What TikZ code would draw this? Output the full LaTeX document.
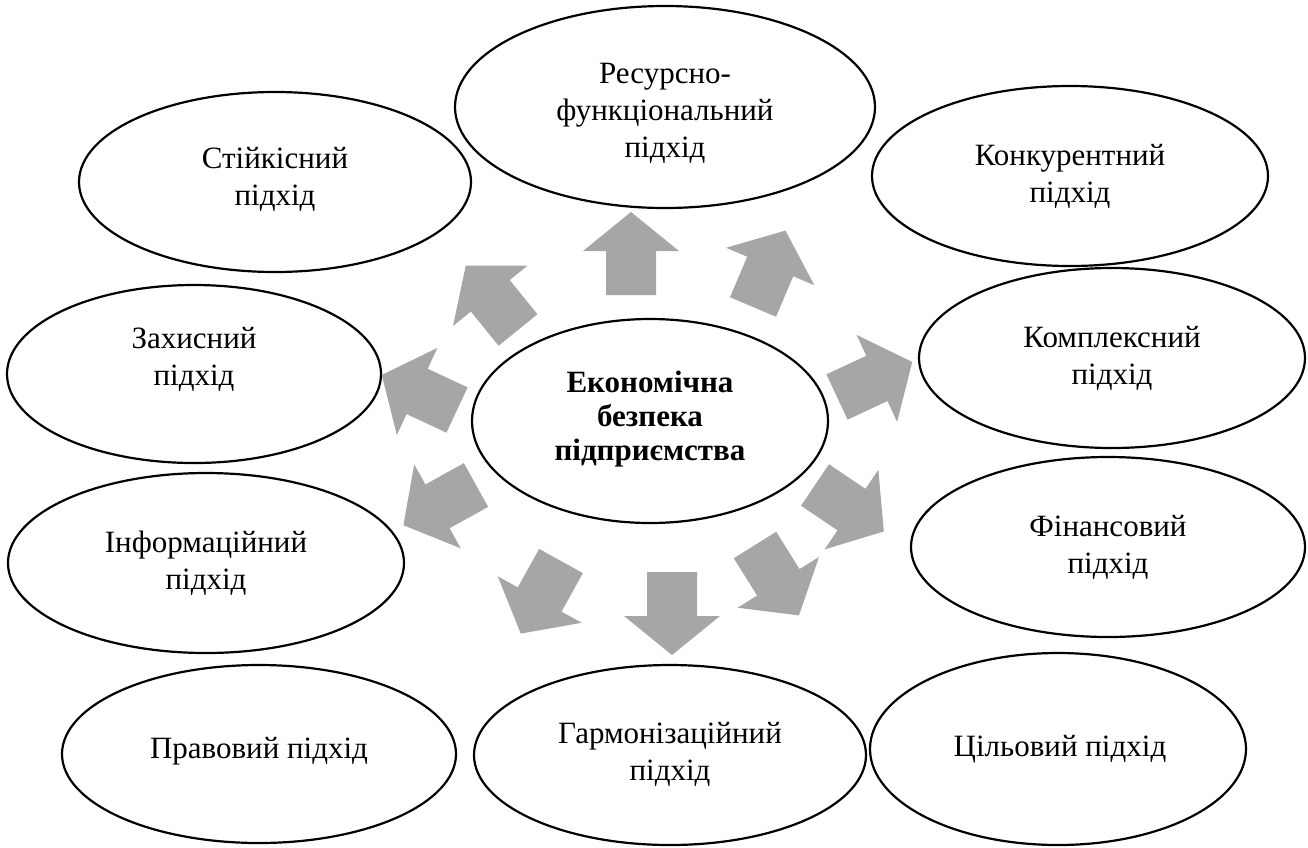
\documentclass[tikz,border=0pt]{standalone}
\usepackage{fontspec}
\setmainfont{Liberation Serif}
\usetikzlibrary{shapes.geometric}
\definecolor{arrowgray}{RGB}{166,166,166}
\tikzset{
  ell/.style={draw=black, line width=2.2pt, ellipse, inner sep=0pt},
  lbl/.style={align=center, font=\fontsize{31}{37}\selectfont, inner sep=0pt},
  centerlbl/.style={align=center, font=\fontsize{31}{34}\selectfont\bfseries, inner sep=0pt},
  blockarr/.style={fill=arrowgray, draw=none}
}
\newcommand\myblockarrow[3]{%
  \begin{scope}[shift={(#1,#2)}, rotate=#3]
    \fill[blockarr] (0,-25) -- (44,-25) -- (44,-48) -- (83,0) -- (44,48) -- (44,25) -- (0,25) -- cycle;
  \end{scope}}
\begin{document}
\begin{tikzpicture}[x=1pt,y=-1pt]
\useasboundingbox (0,0) rectangle (1308,847);
\fill[white] (0,0) rectangle (1308,847);

% ellipses
\node[ell, minimum width=420, minimum height=202] (res) at (665,107) {};
\node[ell, minimum width=392, minimum height=180] (stk) at (275,182) {};
\node[ell, minimum width=396, minimum height=180] (kon) at (1070,176) {};
\node[ell, minimum width=374, minimum height=178] (zah) at (194,374) {};
\node[ell, minimum width=386, minimum height=180] (kom) at (1112,358) {};
\node[ell, minimum width=356, minimum height=204] (cen) at (650,421) {};
\node[ell, minimum width=396, minimum height=180] (inf) at (206,563) {};
\node[ell, minimum width=394, minimum height=180] (fin) at (1108,547) {};
\node[ell, minimum width=394, minimum height=178] (pra) at (259,754) {};
\node[ell, minimum width=392, minimum height=180] (har) at (670,755) {};
\node[ell, minimum width=376, minimum height=192] (cil) at (1058,749) {};

% labels
\node[lbl] (res-t) at (665,113.5) {Ресурсно-\\функціональний\\підхід};
\node[lbl] (stk-t) at (275,179.5) {Стійкісний\\підхід};
\node[lbl] (kon-t) at (1070,176) {Конкурентний\\підхід};
\node[lbl] (zah-t) at (194,359.5) {Захисний\\підхід};
\node[lbl] (kom-t) at (1112,358) {Комплексний\\підхід};
\node[centerlbl] (cen-t) at (650,419.5) {Економічна\\безпека\\підприємства};
\node[lbl] (inf-t) at (206,563) {Інформаційний\\підхід};
\node[lbl] (fin-t) at (1108,547.5) {Фінансовий\\підхід};
\node[lbl] (pra-t) at (259,751.5) {Правовий підхід};
\node[lbl] (har-t) at (670,754) {Гармонізаційний\\підхід};
\node[lbl] (cil-t) at (1060,749.5) {Цільовий підхід};

% block arrows (tail centre x, y, direction)
\myblockarrow{631}{295}{90}
\myblockarrow{753}{307}{67}
\myblockarrow{837}{397}{25}
\myblockarrow{815}{485}{-34}
\myblockarrow{755}{545}{-58}
\myblockarrow{672}{572}{-90}
\myblockarrow{561}{561}{-119}
\myblockarrow{476}{485}{209}
\myblockarrow{457}{410}{155}
\myblockarrow{518}{330}{129}
\end{tikzpicture}
\end{document}
